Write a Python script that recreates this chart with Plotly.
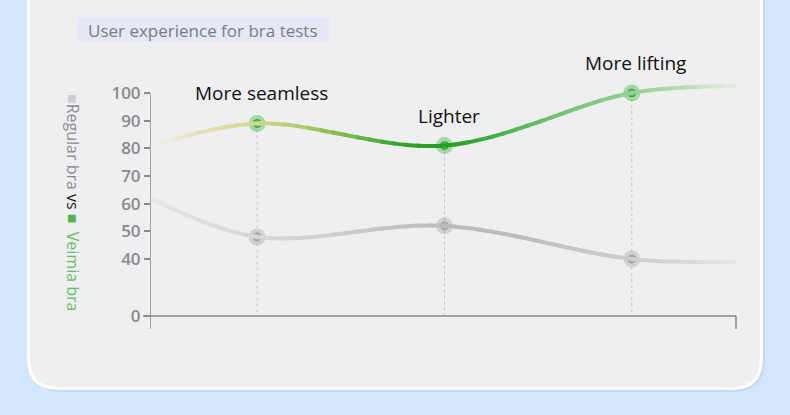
import plotly.graph_objects as go

# ---------------- data ----------------
categories = ["More seamless", "Lighter", "More lifting"]
cat_pos = [0, 1, 2]
veimia = [89, 81, 100]          # Veimia bra (green)
regular = [48, 52, 40]          # Regular bra (gray)
# curve run-out values at the left / right edges of the plot
edge_x = [-0.56, 2.556]
veimia_edges = [81, 102.5]
regular_edges = [62, 38]
y_tick_vals = [0, 40, 50, 60, 70, 80, 90, 100]

# ---------------- layout geometry ----------------
W, H = 790, 415
L, R, T, B = 150, 54, 50, 80
PW, PH = W - L - R, H - T - B
XMIN, XMAX = -0.572, 2.556
YMIN, YMAX = 12.54, 115.54
BREAK, ZERO_POS = 40, 19.4


def ymap(v):
    """axis break: 0..40 compressed"""
    if v >= BREAK:
        return v
    return ZERO_POS + (v / BREAK) * (BREAK - ZERO_POS)


def pxX(px):
    return (px - L) / PW


def pxY(py):
    return 1 - (py - T) / PH


def hex2rgb(h):
    h = h.lstrip('#')
    return tuple(int(h[i:i + 2], 16) for i in (0, 2, 4))


def lerp_color(stops, px):
    for (p0, c0), (p1, c1) in zip(stops[:-1], stops[1:]):
        if p0 <= px <= p1:
            t = (px - p0) / (p1 - p0)
            a, b = hex2rgb(c0), hex2rgb(c1)
            return 'rgb(%d,%d,%d)' % tuple(round(a[i] + (b[i] - a[i]) * t) for i in range(3))
    return stops[0][1] if px < stops[0][0] else stops[-1][1]


green_stops = [(150, '#efeff1'), (172, '#ecead8'), (215, '#e2deaa'), (257, '#d2d890'),
               (300, '#b4cd6a'), (350, '#78ba44'), (400, '#34a62a'), (442, '#1f9e1f'),
               (490, '#3eae3e'), (550, '#6cc26c'), (600, '#86cc86'), (631, '#92d192'),
               (680, '#b2dcb2'), (735, '#e6eee6')]
gray_stops = [(150, '#e8e8ea'), (200, '#dedede'), (257, '#d8d8d8'), (330, '#cfcfcf'),
              (400, '#c2c2c2'), (442, '#bbbbbb'), (520, '#bdbdbd'), (590, '#c8c8c8'),
              (631, '#cdcdcd'), (690, '#d9d9d9'), (735, '#e8e8ea')]

gx = [edge_x[0]] + cat_pos + [edge_x[1]]
gy = [ymap(v) for v in [veimia_edges[0]] + veimia + [veimia_edges[1]]]
rx = [XMIN] + cat_pos + [edge_x[1]]
ry = [ymap(v) for v in [regular_edges[0]] + regular + [regular_edges[1]]]

fig = go.Figure()
layout_axes = {}
N = 48
eps = 0.0025
for i in range(N):
    d0 = max(0.0, i / N - eps)
    d1 = min(1.0, (i + 1) / N + eps)
    r0 = XMIN + d0 * (XMAX - XMIN)
    r1 = XMIN + d1 * (XMAX - XMIN)
    name = 'x%d' % (i + 2)
    layout_axes['xaxis%d' % (i + 2)] = dict(domain=[d0, d1], range=[r0, r1], visible=False,
                                            anchor='y', fixedrange=True, showgrid=False)
    cpx = L + ((i + 0.5) / N) * PW
    fig.add_trace(go.Scatter(x=rx, y=ry, mode='lines', xaxis=name, yaxis='y',
                             line=dict(shape='spline', smoothing=1.0, width=4,
                                       color=lerp_color(gray_stops, cpx)),
                             hoverinfo='skip', showlegend=False))
    fig.add_trace(go.Scatter(x=gx, y=gy, mode='lines', xaxis=name, yaxis='y',
                             line=dict(shape='spline', smoothing=1.0, width=4,
                                       color=lerp_color(green_stops, cpx)),
                             hoverinfo='skip', showlegend=False))

# dashed drop lines
for c, v in zip(cat_pos, veimia):
    fig.add_trace(go.Scatter(x=[c, c], y=[ymap(v), ymap(0)], mode='lines',
                             line=dict(color='#c4c4c6', width=1, dash='dot'),
                             hoverinfo='skip', showlegend=False))

# markers (glow + core)
fig.add_trace(go.Scatter(x=cat_pos, y=[ymap(v) for v in regular], mode='markers',
                         marker=dict(size=17, color='rgba(160,160,160,0.38)'),
                         hoverinfo='skip', showlegend=False))
fig.add_trace(go.Scatter(x=cat_pos, y=[ymap(v) for v in regular], mode='markers',
                         marker=dict(size=8, color='rgba(170,170,170,0.8)',
                                     line=dict(color='#a0a0a0', width=1)),
                         hoverinfo='skip', showlegend=False))
fig.add_trace(go.Scatter(x=cat_pos, y=[ymap(v) for v in veimia], mode='markers',
                         marker=dict(size=17, color='rgba(70,190,70,0.45)'),
                         hoverinfo='skip', showlegend=False))
fig.add_trace(go.Scatter(x=cat_pos, y=[ymap(v) for v in veimia], mode='markers',
                         marker=dict(size=8, color='rgba(80,185,80,0.9)',
                                     line=dict(color='#3f9f3f', width=1)),
                         hoverinfo='skip', showlegend=False))

# ---------------- shapes: card, title box, axes ----------------
shapes = []


def rounded_path(x0, y0, x1, y1, r):
    X0, X1 = pxX(x0), pxX(x1)
    Y0, Y1 = pxY(y0), pxY(y1)
    xr, yr = r / PW, r / PH
    return ('M %f,%f L %f,%f Q %f,%f %f,%f L %f,%f Q %f,%f %f,%f L %f,%f Z' %
            (X0, Y0, X0, Y1 + yr, X0, Y1, X0 + xr, Y1, X1 - xr, Y1, X1, Y1, X1, Y1 + yr, X1, Y0))


# card shadow
shapes.append(dict(type='path', xref='paper', yref='paper', layer='below',
                   path=rounded_path(30, -20, 765, 392, 32),
                   fillcolor='#c3d9f3', line=dict(width=0)))
# card
shapes.append(dict(type='path', xref='paper', yref='paper', layer='below',
                   path=rounded_path(28.5, -20, 761.5, 388.5, 30),
                   fillcolor='#efeff1', line=dict(color='#ffffff', width=3)))
# title box
shapes.append(dict(type='rect', xref='paper', yref='paper', layer='below',
                   x0=pxX(77), x1=pxX(329), y0=pxY(42), y1=pxY(17),
                   fillcolor='#e5e8f5', line=dict(width=0)))
axis_col = '#8a8a8c'
# y axis line
shapes.append(dict(type='line', xref='x', yref='y', x0=XMIN, x1=XMIN,
                   y0=ymap(100), y1=ymap(0) - 13 / 2.767,
                   line=dict(color=axis_col, width=1.5)))
# x axis line
shapes.append(dict(type='line', xref='paper', yref='y', x0=pxX(143), x1=1,
                   y0=ymap(0), y1=ymap(0), line=dict(color=axis_col, width=1.5)))
# right end tick
shapes.append(dict(type='line', xref='paper', yref='y', x0=1, x1=1,
                   y0=ymap(0), y1=ymap(0) - 13 / 2.767, line=dict(color=axis_col, width=1.5)))

# ---------------- annotations ----------------
annotations = []
for c, v, lab in zip(cat_pos, veimia, categories):
    annotations.append(dict(x=c, y=ymap(v), xref='x', yref='y', text=lab, showarrow=False,
                            yshift=30, xshift=4,
                            font=dict(family='Open Sans', size=19, color='#111111')))
annotations.append(dict(x=pxX(88), y=pxY(30), xref='paper', yref='paper',
                        text='User experience for bra tests', showarrow=False,
                        xanchor='left', yanchor='middle', xshift=-2,
                        font=dict(family='Open Sans', size=17, color='#7c7c82')))
legend_txt = ("<span style='color:#cfcfcf'>■</span><span style='color:#8c8c8c'>Regular bra</span>"
              " <span style='color:#222'>vs</span> "
              "<span style='color:#55b555'>■</span>  <span style='color:#66bb66'>Veimia bra</span>")
annotations.append(dict(x=pxX(73), y=pxY(202), xref='paper', yref='paper', text=legend_txt,
                        showarrow=False, textangle=90, xanchor='center', yanchor='middle',
                        font=dict(family='Open Sans', size=16, color='#8c8c8c')))

fig.update_layout(
    width=W, height=H,
    margin=dict(l=L, r=R, t=T, b=B, pad=0),
    paper_bgcolor='#d3e6fb',
    plot_bgcolor='rgba(0,0,0,0)',
    showlegend=False,
    xaxis=dict(range=[XMIN, XMAX], visible=False, fixedrange=True, showgrid=False),
    yaxis=dict(range=[YMIN, YMAX], showgrid=False, zeroline=False, showline=False,
               tickvals=[ymap(v) for v in y_tick_vals], ticktext=[str(v) for v in y_tick_vals],
               ticks='outside', ticklen=6, tickcolor=axis_col, tickwidth=1.5,
               tickfont=dict(family='Open Sans', size=17, color='#8a8a8a', weight=600),
               fixedrange=True, anchor='free', position=0),
    shapes=shapes,
    annotations=annotations,
    **layout_axes,
)

fig.write_html("out.html", config={'displayModeBar': False},
               post_script="document.body.style.margin='0px';document.body.style.overflow='hidden';")
